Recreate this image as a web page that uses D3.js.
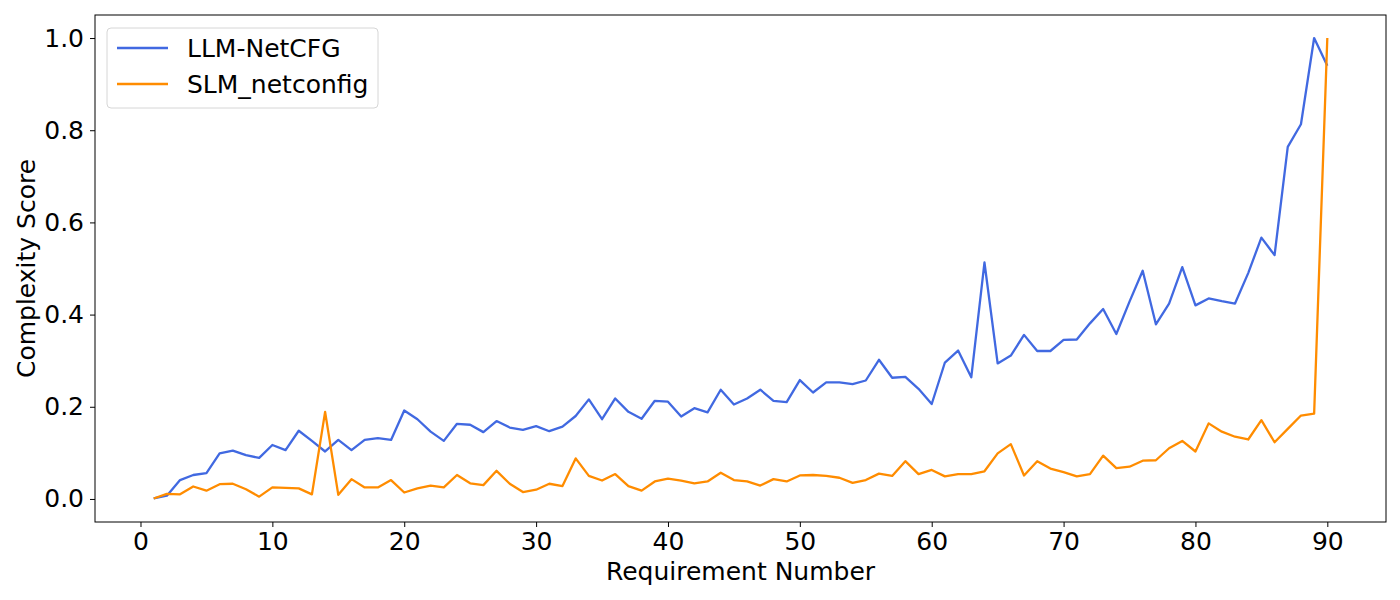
<!DOCTYPE html>
<html>
<head>
<meta charset="utf-8">
<script src="https://cdn.jsdelivr.net/npm/d3@7"></script>
<style>
  body { margin: 0; background: #fff; }
  svg { font-family: "DejaVu Sans", sans-serif; }
</style>
</head>
<body>
<div id="chart"></div>
<script>
// requirement numbers 1..90
var reqNums = d3.range(1, 91);

var llmNetcfg = [
  0.001, 0.007, 0.041, 0.052, 0.056, 0.099, 0.105, 0.095, 0.089, 0.117,
  0.106, 0.148, 0.126, 0.103, 0.128, 0.106, 0.128, 0.132, 0.128, 0.192,
  0.173, 0.146, 0.126, 0.163, 0.161, 0.145, 0.169, 0.155, 0.150, 0.158,
  0.147, 0.157, 0.180, 0.216, 0.173, 0.218, 0.189, 0.174, 0.213, 0.211,
  0.179, 0.197, 0.188, 0.237, 0.205, 0.218, 0.237, 0.213, 0.210, 0.258,
  0.231, 0.253, 0.253, 0.249, 0.257, 0.302, 0.263, 0.265, 0.239, 0.206,
  0.296, 0.322, 0.264, 0.513, 0.294, 0.311, 0.356, 0.321, 0.321, 0.345,
  0.346, 0.381, 0.412, 0.358, 0.428, 0.495, 0.379, 0.424, 0.503, 0.420,
  0.435, 0.429, 0.424, 0.490, 0.567, 0.529, 0.764, 0.813, 1.000, 0.940
];

var slmNetconfig = [
  0.001, 0.011, 0.010, 0.027, 0.018, 0.032, 0.033, 0.021, 0.005, 0.025,
  0.024, 0.023, 0.010, 0.189, 0.009, 0.043, 0.025, 0.025, 0.041, 0.014,
  0.023, 0.029, 0.025, 0.052, 0.034, 0.030, 0.061, 0.033, 0.015, 0.020,
  0.033, 0.028, 0.088, 0.050, 0.040, 0.054, 0.028, 0.018, 0.038, 0.044,
  0.040, 0.034, 0.038, 0.057, 0.041, 0.038, 0.029, 0.043, 0.038, 0.051,
  0.052, 0.050, 0.046, 0.035, 0.041, 0.055, 0.050, 0.082, 0.054, 0.063,
  0.049, 0.054, 0.054, 0.060, 0.099, 0.119, 0.051, 0.082, 0.066, 0.058,
  0.049, 0.054, 0.094, 0.067, 0.070, 0.083, 0.084, 0.110, 0.126, 0.103,
  0.164, 0.146, 0.135, 0.129, 0.171, 0.123, 0.152, 0.181, 0.185, 1.000
];

var seriesNames = ["LLM-NetCFG", "SLM_netconfig"];
var seriesColors = ["#4169E1", "#FF8C00"];
var xTicks = [0, 10, 20, 30, 40, 50, 60, 70, 80, 90];
var yTicks = [0.0, 0.2, 0.4, 0.6, 0.8, 1.0];

var width = 1400, height = 600;
var margin = {left: 95, right: 14, top: 15, bottom: 78};
var fontSize = 25;

var svg = d3.select('#chart')
    .append('svg')
    .attr('width', width)
    .attr('height', height);

var x = d3.scaleLinear()
    .domain([1 - 89 * 0.05, 90 + 89 * 0.05])
    .range([margin.left, width - margin.right]);

var y = d3.scaleLinear()
    .domain([-0.05, 1.05])
    .range([height - margin.bottom, margin.top]);

// axes
var xAxis = svg.append('g')
    .attr('transform', 'translate(0,' + (height - margin.bottom) + ')')
    .call(d3.axisBottom(x).tickValues(xTicks).tickSize(5).tickPadding(5).tickFormat(d3.format('d')));

var yAxis = svg.append('g')
    .attr('transform', 'translate(' + margin.left + ',0)')
    .call(d3.axisLeft(y).tickValues(yTicks).tickSize(5).tickPadding(6).tickFormat(d3.format('.1f')));

[xAxis, yAxis].forEach(function(ax) {
    ax.select('.domain').remove();
    ax.selectAll('text').attr('font-size', fontSize).attr('fill', '#000').attr('font-family', '"DejaVu Sans", sans-serif');
    ax.selectAll('line').attr('stroke', '#000').attr('stroke-width', 1);
});

// frame
svg.append('rect')
    .attr('x', margin.left)
    .attr('y', margin.top)
    .attr('width', width - margin.left - margin.right)
    .attr('height', height - margin.top - margin.bottom)
    .attr('fill', 'none')
    .attr('stroke', '#000')
    .attr('stroke-width', 1);

// lines
var line = d3.line()
    .x(function(d, i) { return x(reqNums[i]); })
    .y(function(d) { return y(d); });

[llmNetcfg, slmNetconfig].forEach(function(data, k) {
    svg.append('path')
        .datum(data)
        .attr('fill', 'none')
        .attr('stroke', seriesColors[k])
        .attr('stroke-width', 2.3)
        .attr('stroke-linejoin', 'round')
        .attr('d', line);
});

// axis labels
svg.append('text')
    .attr('x', (margin.left + width - margin.right) / 2)
    .attr('y', 580)
    .attr('text-anchor', 'middle')
    .attr('font-size', fontSize)
    .text('Requirement Number');

svg.append('text')
    .attr('transform', 'translate(35,' + ((margin.top + height - margin.bottom) / 2) + ') rotate(-90)')
    .attr('text-anchor', 'middle')
    .attr('font-size', fontSize)
    .text('Complexity Score');

// legend
var legend = svg.append('g').attr('transform', 'translate(107,28)');
legend.append('rect')
    .attr('width', 271)
    .attr('height', 80)
    .attr('rx', 4)
    .attr('fill', '#fff')
    .attr('fill-opacity', 0.8)
    .attr('stroke', '#d6d6d6');

seriesNames.forEach(function(name, k) {
    var ly = 20 + k * 36;
    legend.append('line')
        .attr('x1', 10).attr('x2', 61)
        .attr('y1', ly).attr('y2', ly)
        .attr('stroke', seriesColors[k])
        .attr('stroke-width', 2.3);
    legend.append('text')
        .attr('x', 80)
        .attr('y', ly + 9)
        .attr('font-size', fontSize)
        .text(name);
});
</script>
</body>
</html>
